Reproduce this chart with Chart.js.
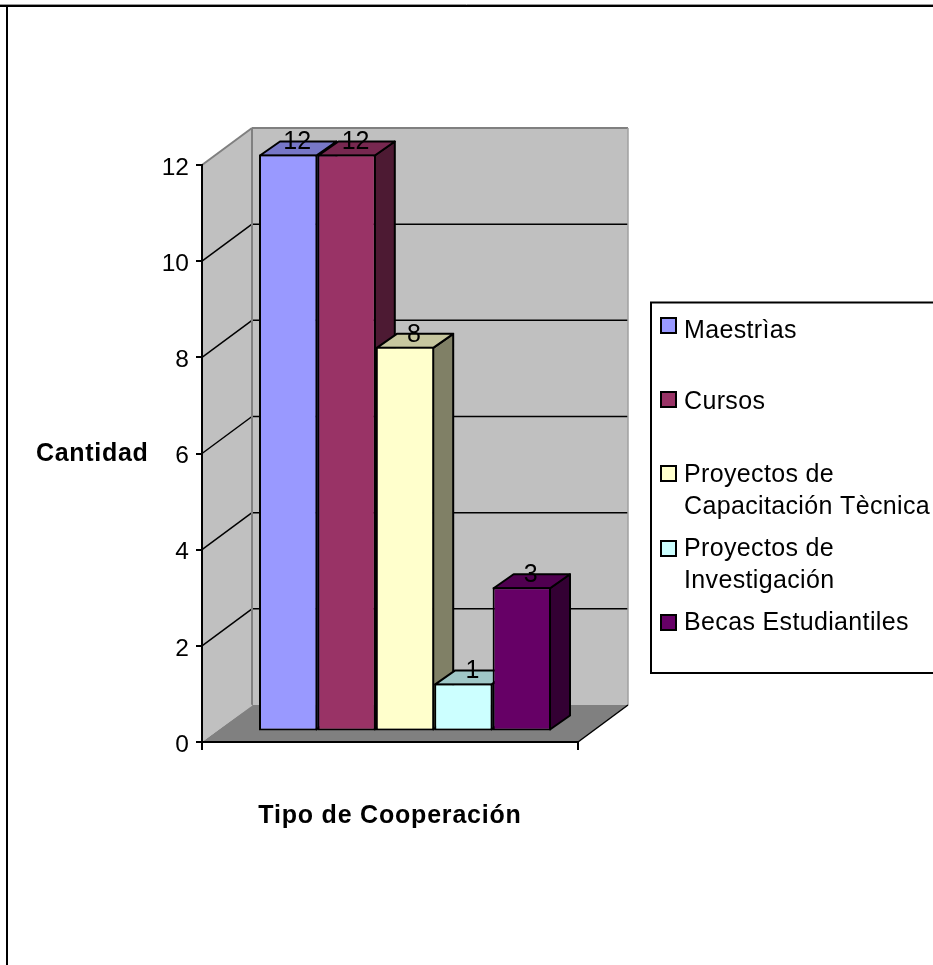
<!DOCTYPE html>
<html><head><meta charset="utf-8">
<style>html,body{margin:0;padding:0;background:#fff}canvas{display:block}</style>
<script src="https://cdn.jsdelivr.net/npm/chart.js@4"></script>
</head><body>
<canvas id="c" width="933" height="965"></canvas>
<script>
const categories = ['Tipo de Cooperación'];
const seriesNames = ['Maestrìas','Cursos','Proyectos de Capacitación Tècnica','Proyectos de Investigación','Becas Estudiantiles'];
const seriesValues = [12,12,8,1,3];
const seriesColors = ['#9999FF','#993366','#FFFFCC','#CCFFFF','#660066'];
const yTitle = 'Cantidad';
const xTitle = 'Tipo de Cooperación';
const legendLines = [['Maestrìas'],['Cursos'],['Proyectos de','Capacitación Tècnica'],['Proyectos de','Investigación'],['Becas Estudiantiles']];

const FONT='"Liberation Sans", Arial, sans-serif';
const LABEL=24.5, WALL={dx:50,dy:-37}, BAR={tx:15,ty:-10.5,dx:20,dy:-14};
function shade(hex,f){const n=parseInt(hex.slice(1),16);
  return `rgb(${Math.round((n>>16&255)*f)},${Math.round((n>>8&255)*f)},${Math.round((n&255)*f)})`;}
function poly(ctx,pts,fill,stroke,w){ctx.beginPath();pts.forEach((p,i)=>i?ctx.lineTo(p[0],p[1]):ctx.moveTo(p[0],p[1]));ctx.closePath();
  if(fill){ctx.fillStyle=fill;ctx.fill();}
  if(stroke){ctx.strokeStyle=stroke;ctx.lineWidth=w;ctx.lineJoin='round';ctx.stroke();}}
function line(ctx,x1,y1,x2,y2,c,w){ctx.beginPath();ctx.moveTo(x1,y1);ctx.lineTo(x2,y2);ctx.strokeStyle=c;ctx.lineWidth=w;ctx.stroke();}

const threeD={
  id:'threeD',
  beforeDraw(chart){
    const ctx=chart.ctx,{left:l,right:r,top:t,bottom:b}=chart.chartArea,y=chart.scales.y,sx=chart.scales.x;
    const d=WALL.dx,e=WALL.dy;
    if(!sx._spaced){
      const orig=sx.drawTitle.bind(sx);
      sx.drawTitle=function(){ctx.letterSpacing='0.8px';orig();ctx.letterSpacing='0px';};
      sx._spaced=true;
    }
    ctx.save();
    ctx.fillStyle='#fff';ctx.fillRect(0,0,933,965);
    // outer frame
    line(ctx,0,4.5,933,4.5,'#999',1);
    line(ctx,0,6,933,6,'#000',2);
    line(ctx,7,5,7,965,'#000',2);
    // side wall, back wall, floor
    poly(ctx,[[l,t],[l+d,t+e],[l+d,b+e],[l,b]],'#c0c0c0');
    poly(ctx,[[l+d,t+e],[r+d,t+e],[r+d,b+e],[l+d,b+e]],'#c0c0c0');
    poly(ctx,[[l,b],[l+d,b+e],[r+d,b+e],[r,b]],'#808080');
    y.ticks.forEach(tk=>{
      if(tk.value<=y.min||tk.value>=y.max)return;
      const p=y.getPixelForValue(tk.value);
      line(ctx,l,p,l+d,p+e,'#000',1.5);
      line(ctx,l+d,p+e,r+d,p+e,'#000',1.5);
    });
    // wall edges
    line(ctx,l,t,l+d,t+e,'#808080',2);
    line(ctx,l+d,t+e,r+d,t+e,'#808080',2);
    line(ctx,l+d,t+e,l+d,b+e,'#808080',2);
    line(ctx,r+d,t+e,r+d,b+e,'#a0a0a0',1.5);
    line(ctx,l,b-1,l+d,b+e,'#c0c0c0',1.5);
    line(ctx,r,b,r+d,b+e,'#000',1.5);
    ctx.restore();
    // legend
    ctx.save();
    ctx.strokeStyle='#000';ctx.lineWidth=2;
    ctx.strokeRect(651,302.5,300,370.5);
    const sw=[318,392,466,541,615], tx=[[331],[402],[475,507],[549,581],[623]];
    ctx.font=`25px ${FONT}`;ctx.letterSpacing='0.35px';ctx.textBaseline='middle';ctx.textAlign='left';
    legendLines.forEach((lines,i)=>{
      ctx.fillStyle=seriesColors[i];ctx.fillRect(661,sw[i],15,15);
      ctx.lineWidth=2;ctx.strokeRect(661,sw[i],15,15);
      ctx.fillStyle='#000';
      lines.forEach((s,j)=>ctx.fillText(s,684,tx[i][j]));
    });
    // horizontal value-axis title
    ctx.font=`bold 25px ${FONT}`;ctx.letterSpacing='0.7px';ctx.textAlign='left';
    ctx.fillText(yTitle,36,454);
    ctx.letterSpacing='0px';
    ctx.restore();
  },
  beforeDatasetsDraw(chart){
    const ctx=chart.ctx;
    ctx.save();ctx.translate(BAR.tx,BAR.ty);
    // painter's order: left to right, each bar covering its left neighbour's side face
    chart.data.datasets.forEach((ds,i)=>{
      const meta=chart.getDatasetMeta(i),col=seriesColors[i];
      meta.data.forEach(b=>{
        // the library draws the bar border inside the rectangle: follow its centre line
        const x0=b.x-b.width/2+1,x1=b.x+b.width/2-1,top=b.y+1,base=b.base-1,d=BAR.dx,e=BAR.dy;
        poly(ctx,[[x1,top],[x1+d,top+e],[x1+d,base+e],[x1,base]],shade(col,.5),'#000',2);
        poly(ctx,[[x0,top],[x0+d,top+e],[x1+d,top+e],[x1,top]],shade(col,.78),'#000',2);
      });
      meta.controller.draw();
    });
    ctx.font=`25px ${FONT}`;ctx.fillStyle='#000';ctx.textAlign='center';ctx.textBaseline='middle';
    chart.data.datasets.forEach((ds,i)=>{
      chart.getDatasetMeta(i).data.forEach((b,j)=>{
        ctx.fillText(String(ds.data[j]),b.x+BAR.dx/2-1,b.y+BAR.dy+2);
      });
    });
    ctx.restore();
    const x=chart.scales.x;
    line(ctx,x.left,chart.chartArea.bottom,x.left,750,'#000',2);
    line(ctx,x.right,chart.chartArea.bottom,x.right,750,'#000',2);
    return false;
  }
};

new Chart(document.getElementById('c'),{
  type:'bar',
  data:{labels:categories,datasets:seriesNames.map((n,i)=>({
    label:n,data:[seriesValues[i]],backgroundColor:seriesColors[i],borderColor:'#000',borderWidth:2,borderSkipped:false,clip:false}))},
  options:{
    responsive:false,animation:false,
    layout:{padding:{top:165,right:355,left:0,bottom:0}},
    categoryPercentage:0.7766,barPercentage:1,
    plugins:{legend:{display:false},title:{display:false},tooltip:{enabled:false}},
    scales:{
      x:{
        afterFit(s){s.height=223;},
        grid:{display:false},
        border:{display:true,color:'#000',width:2},
        ticks:{display:false},
        title:{display:true,text:xTitle,color:'#000',font:{family:FONT,size:25,weight:'bold'},padding:{top:0,bottom:134}}
      },
      y:{
        min:0,max:12,
        afterFit(s){s.width=202;},
        grid:{drawOnChartArea:false,drawTicks:true,tickLength:6,color:'#000',tickColor:'#000',lineWidth:2},
        border:{display:true,color:'#000',width:2},
        ticks:{stepSize:2,color:'#000',padding:7,labelOffset:3,font:{family:FONT,size:LABEL}}
      }
    }
  },
  plugins:[threeD]
});
</script>
</body></html>
